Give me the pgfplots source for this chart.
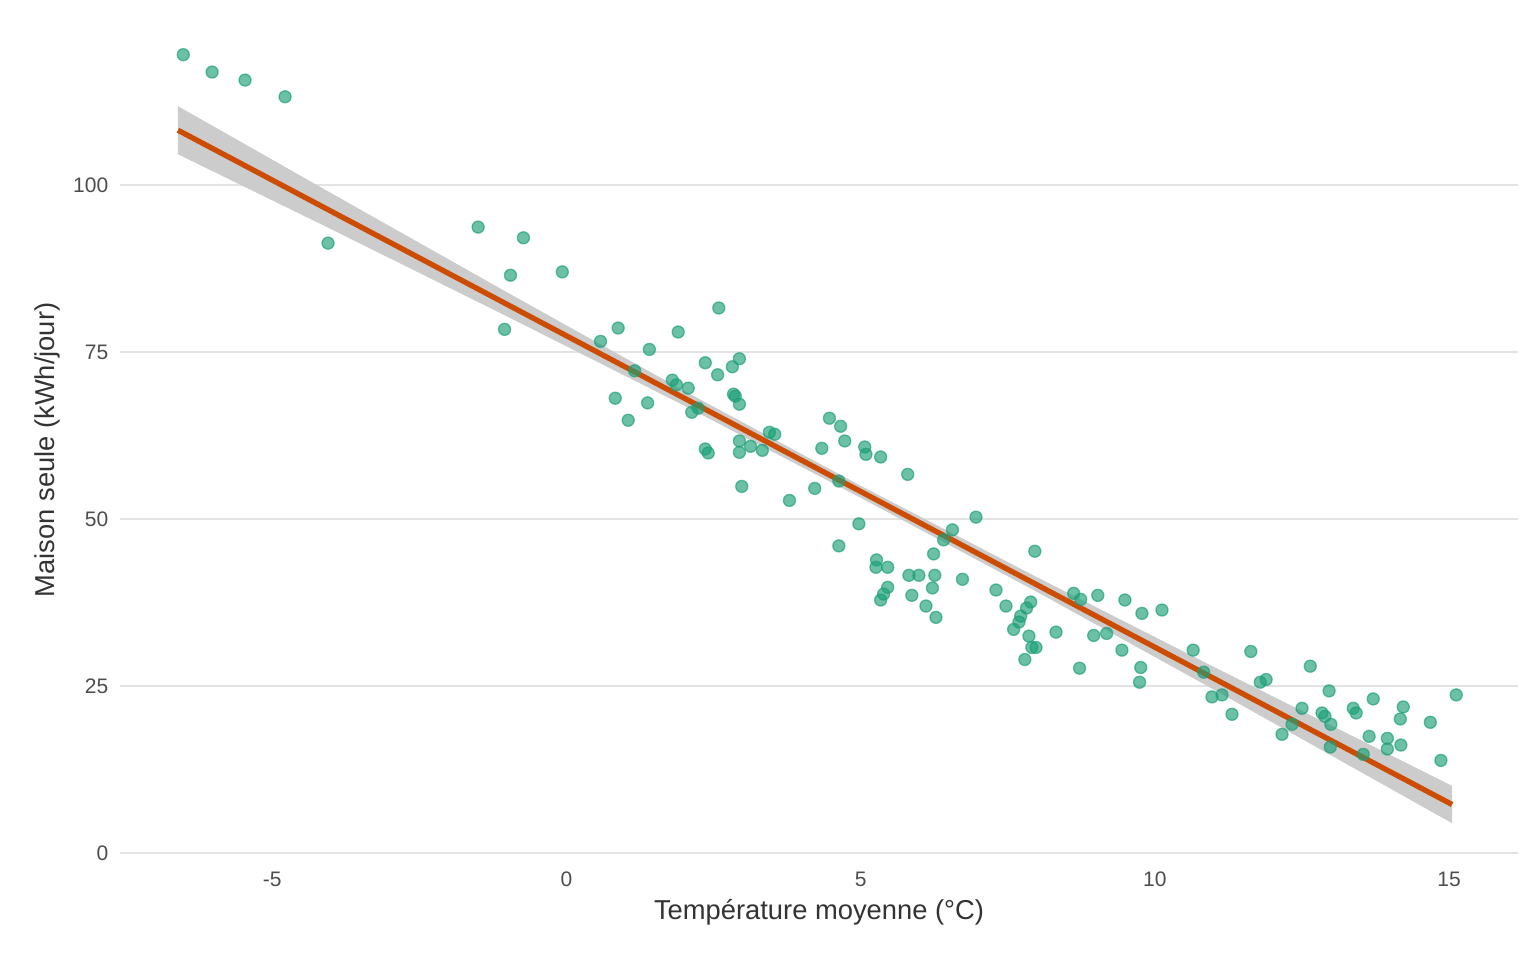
\documentclass[border=0pt]{standalone}
\usepackage{fontspec}
\setmainfont{Liberation Sans}
\usepackage{pgfplots}
\pgfplotsset{compat=1.18}
\definecolor{pts}{HTML}{1B9E77}
\definecolor{reg}{HTML}{CC4C02}
\definecolor{txt}{HTML}{4D4D4D}
\begin{document}
\begin{tikzpicture}
\begin{axis}[
  scale only axis, width=419.4pt, height=246pt,
  xmin=-7.585, xmax=16.17, ymin=-1, ymax=121.7,
  axis line style={draw=none}, tick style={draw=none},
  xtick={-5,0,5,10,15}, ytick={0,25,50,75,100},
  ymajorgrids, grid style={color=black!11, line width=0.6pt},
  /pgf/number format/assume math mode=true,
  ticklabel style={font=\fontsize{6.3}{7}\selectfont, text=txt},
  xlabel={Température moyenne (°C)}, ylabel={Maison seule (kWh/jour)},
  label style={font=\fontsize{8.2}{9}\selectfont, text=black!80},
  xlabel style={yshift=3pt}, ylabel style={yshift=-3pt},
  clip=false,
]
\addplot[fill=black!20, draw=none] coordinates {
(-6.6,111.8) (-4,98.8) (-1,83.9) (2,69.2) (5,55.0) (8,41.3) (11,27.9) (15.05,10.1)
(15.05,4.5) (11,24.5) (8,39.1) (5,53.2) (2,67.0) (-1,80.3) (-4,93.4) (-6.6,104.6)} --cycle;
\addplot[reg, line width=1.6pt] coordinates {(-6.6,108.2) (15.05,7.3)};
\addplot[only marks, mark=*, mark size=1.8pt, mark options={draw=pts, fill=pts, fill opacity=0.65, draw opacity=0.65}] coordinates {
(-6.51,119.5) (-6.02,116.9) (-5.46,115.7) (-4.78,113.2) (-4.05,91.3) (-1.50,93.7) (-0.95,86.5) (-0.73,92.1) (-1.05,78.4) (-0.07,87.0)
(0.58,76.6) (0.88,78.6) (0.83,68.1) (1.05,64.8) (1.16,72.2) (1.41,75.4) (1.38,67.4) (1.80,70.8) (1.90,78.0) (1.87,70.1)
(2.07,69.6) (2.13,66.0) (2.24,66.6) (2.36,73.4) (2.36,60.5) (2.41,59.9) (2.57,71.6) (2.59,81.6) (2.82,72.8) (2.84,68.7)
(2.87,68.4) (2.94,74.0) (2.94,67.2) (2.94,61.7) (2.94,60.0) (2.98,54.9) (3.13,60.9) (3.33,60.3) (3.45,63.0) (3.54,62.7)
(3.79,52.8) (4.22,54.6) (4.34,60.6) (4.47,65.1) (4.66,63.9) (4.73,61.7) (4.63,55.7) (4.63,46.0) (4.97,49.3) (5.07,60.8)
(5.09,59.7) (5.34,59.3) (5.27,43.9) (5.26,42.8) (5.46,42.8) (5.46,39.8) (5.39,38.8) (5.34,37.9) (5.80,56.7) (5.82,41.6)
(5.99,41.6) (5.87,38.6) (6.11,37.0) (6.24,44.8) (6.26,41.6) (6.22,39.7) (6.28,35.3) (6.41,46.9) (6.56,48.4) (6.73,41.0)
(6.96,50.3) (7.30,39.4) (7.47,37.0) (7.60,33.5) (7.69,34.6) (7.72,35.5) (7.82,36.7) (7.89,37.6) (7.86,32.5) (7.91,30.8)
(7.98,30.8) (7.79,29.0) (7.96,45.2) (8.32,33.1) (8.62,38.9) (8.74,38.0) (8.72,27.7) (8.96,32.6) (9.03,38.6) (9.18,32.9)
(9.44,30.4) (9.49,37.9) (9.78,35.9) (9.76,27.8) (9.74,25.6) (10.12,36.4) (10.65,30.4) (10.83,27.1) (10.97,23.4) (11.14,23.7)
(11.31,20.8) (11.63,30.2) (11.79,25.6) (11.89,26.0) (12.16,17.8) (12.33,19.3) (12.50,21.7) (12.64,28.0) (12.84,21.0) (12.89,20.5)
(12.96,24.3) (12.99,19.3) (12.98,15.9) (13.37,21.7) (13.42,21.0) (13.54,14.8) (13.64,17.5) (13.71,23.1) (13.95,17.2) (13.95,15.6)
(14.17,20.1) (14.22,21.9) (14.18,16.2) (14.68,19.6) (14.86,13.9) (15.12,23.7)};
\coordinate (bl) at (rel axis cs:0,0);
\coordinate (tr) at (rel axis cs:1,1);
\end{axis}
\pgfresetboundingbox
\path ([shift={(-36pt,-30pt)}]bl) rectangle ([shift={(5.4pt,12pt)}]tr);
\end{tikzpicture}
\end{document}
